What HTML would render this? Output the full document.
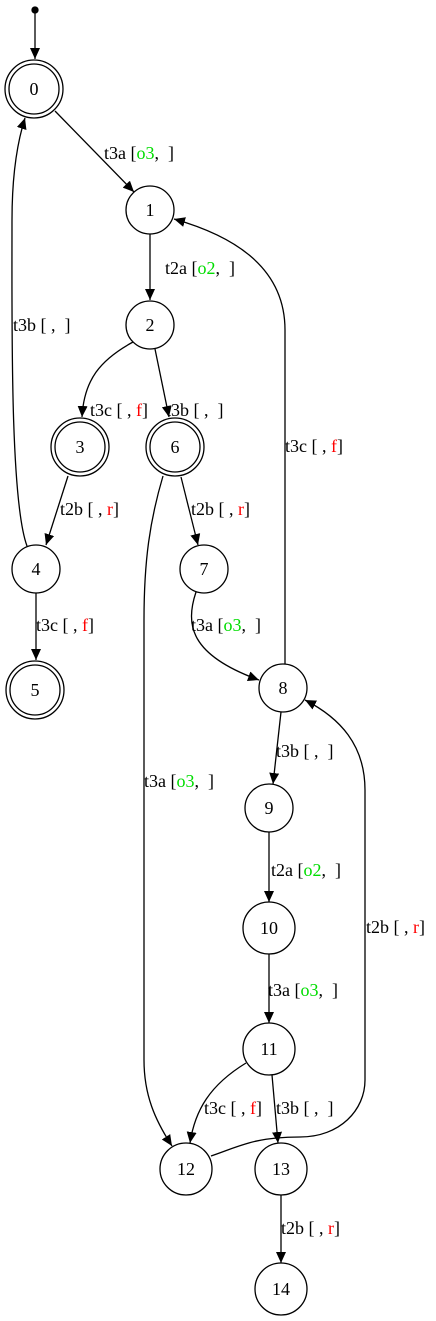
<!DOCTYPE html>
<html><head><meta charset="utf-8"><style>
html,body{margin:0;padding:0;background:#fff;}
svg{display:block;}
text{font-family:"Liberation Serif",serif;font-size:18px;fill:#000;}
.g{fill:#00dd00}.r{fill:#ff0000}
</style></head><body>
<svg width="436" height="1321" viewBox="0 0 436 1321" xmlns="http://www.w3.org/2000/svg">
<defs>
<marker id="a" markerUnits="userSpaceOnUse" markerWidth="12" markerHeight="10" refX="11" refY="5" orient="auto">
<path d="M0,0 L11,5 L0,10 Z" fill="#000"/>
</marker>
</defs>
<g fill="none" stroke="#000" stroke-width="1.3">
<circle cx="35" cy="10" r="3" fill="#000"/>
<line x1="35" y1="12" x2="35" y2="59" marker-end="url(#a)"/>
<circle cx="34" cy="89" r="29"/><circle cx="34" cy="89" r="25"/>
<circle cx="150" cy="210" r="24"/>
<circle cx="150" cy="325" r="24"/>
<circle cx="80" cy="447" r="29"/><circle cx="80" cy="447" r="25"/>
<circle cx="175" cy="447" r="29"/><circle cx="175" cy="447" r="25"/>
<circle cx="36" cy="569" r="24"/>
<circle cx="204" cy="569" r="24"/>
<circle cx="35" cy="690" r="29"/><circle cx="35" cy="690" r="25"/>
<circle cx="283" cy="688" r="24"/>
<circle cx="269" cy="808" r="24"/>
<circle cx="269" cy="928" r="26"/>
<circle cx="269" cy="1049" r="26"/>
<circle cx="186" cy="1169" r="26"/>
<circle cx="281" cy="1169" r="26"/>
<circle cx="281" cy="1289" r="26"/>

<line x1="55" y1="111" x2="134" y2="192" marker-end="url(#a)"/>
<path d="M27,546 C10,500 12,320 12,220 C12,170 18,140 25,118" marker-end="url(#a)"/>
<line x1="150" y1="234" x2="150" y2="300" marker-end="url(#a)"/>
<path d="M133,342 C100,360 84,380 82,417" marker-end="url(#a)"/>
<line x1="155" y1="349" x2="169" y2="417" marker-end="url(#a)"/>
<line x1="68" y1="476" x2="46" y2="545" marker-end="url(#a)"/>
<line x1="181" y1="477" x2="198" y2="545" marker-end="url(#a)"/>
<line x1="36" y1="593" x2="36" y2="660" marker-end="url(#a)"/>
<path d="M196,592 C185,625 190,655 259,680" marker-end="url(#a)"/>
<path d="M285,664 C285,600 285,420 285,330 C285,265 230,235 174,219" marker-end="url(#a)"/>
<path d="M163,476 C150,520 144,560 144,620 L144,1060 C144,1095 155,1120 172,1146" marker-end="url(#a)"/>
<line x1="281" y1="712" x2="273" y2="784" marker-end="url(#a)"/>
<line x1="269" y1="832" x2="269" y2="902" marker-end="url(#a)"/>
<line x1="269" y1="954" x2="269" y2="1023" marker-end="url(#a)"/>
<path d="M246,1063 C210,1085 195,1110 190,1143" marker-end="url(#a)"/>
<line x1="272" y1="1075" x2="278" y2="1143" marker-end="url(#a)"/>
<path d="M211,1156 C240,1146 255,1137 300,1137 C340,1137 365,1110 365,1080 L365,790 C365,745 340,718 305,700" marker-end="url(#a)"/>
<line x1="281" y1="1195" x2="281" y2="1263" marker-end="url(#a)"/>
</g>
<g text-anchor="middle" dominant-baseline="central">
<text x="34" y="89">0</text><text x="150" y="210">1</text><text x="150" y="325">2</text>
<text x="80" y="447">3</text><text x="175" y="447">6</text><text x="36" y="569">4</text>
<text x="204" y="569">7</text><text x="35" y="690">5</text><text x="283" y="688">8</text>
<text x="269" y="808">9</text><text x="269" y="928">10</text><text x="269" y="1049">11</text>
<text x="186" y="1169">12</text><text x="281" y="1169">13</text><text x="281" y="1289">14</text>
</g>
<g dominant-baseline="central">
<text x="104" y="153">t3a [<tspan class="g">o3</tspan>,  &#160;]</text>
<text x="13" y="325">t3b [ ,  &#160;]</text>
<text x="165" y="268">t2a [<tspan class="g">o2</tspan>,  &#160;]</text>
<text x="90" y="410">t3c [ , <tspan class="r">f</tspan>]</text>
<text x="166" y="410">t3b [ ,  &#160;]</text>
<text x="60" y="509">t2b [ , <tspan class="r">r</tspan>]</text>
<text x="191" y="509">t2b [ , <tspan class="r">r</tspan>]</text>
<text x="36" y="625">t3c [ , <tspan class="r">f</tspan>]</text>
<text x="191" y="625">t3a [<tspan class="g">o3</tspan>,  &#160;]</text>
<text x="285" y="446">t3c [ , <tspan class="r">f</tspan>]</text>
<text x="144" y="781">t3a [<tspan class="g">o3</tspan>,  &#160;]</text>
<text x="276" y="751">t3b [ ,  &#160;]</text>
<text x="271" y="870">t2a [<tspan class="g">o2</tspan>,  &#160;]</text>
<text x="268" y="990">t3a [<tspan class="g">o3</tspan>,  &#160;]</text>
<text x="366" y="927">t2b [ , <tspan class="r">r</tspan>]</text>
<text x="204" y="1108">t3c [ , <tspan class="r">f</tspan>]</text>
<text x="276" y="1108">t3b [ ,  &#160;]</text>
<text x="281" y="1228">t2b [ , <tspan class="r">r</tspan>]</text>
</g>
</svg>
</body></html>
